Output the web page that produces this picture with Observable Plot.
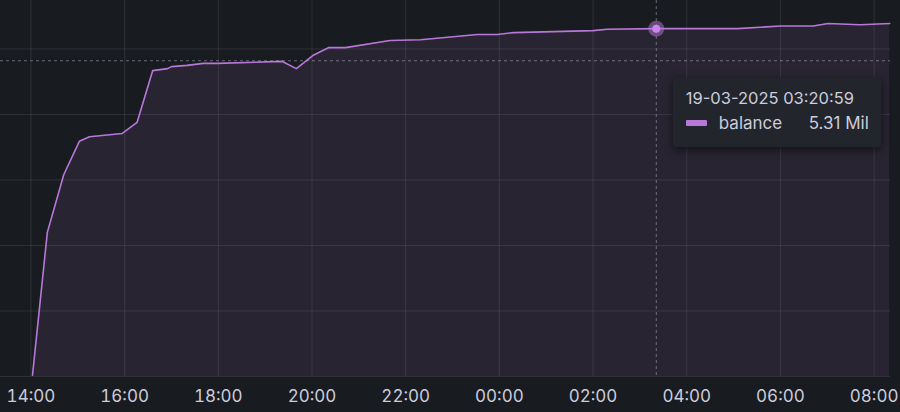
<!DOCTYPE html>
<html><head><meta charset="utf-8">
<script src="https://cdn.jsdelivr.net/npm/d3@7"></script>
<script src="https://cdn.jsdelivr.net/npm/@observablehq/plot@0.6"></script>
<style>
html,body{margin:0;padding:0;background:#181b1f;}
#wrap{position:relative;width:900px;height:412px;overflow:hidden;font-family:Inter,"Noto Sans",sans-serif;}
#tip{position:absolute;background:#22252b;border-radius:3px;box-shadow:0 3px 10px rgba(0,0,0,0.55);color:#ccccdc;box-sizing:border-box;width:208px;height:69px;padding:10px 12px 0 13px;}
#tip .t{font-size:16.5px;line-height:20px;margin-bottom:5px;}
#tip .row{display:flex;align-items:center;font-size:17px;line-height:20px;}
#tip .sw{width:21px;height:6px;border-radius:1px;margin-right:12px;}
#tip .v{margin-left:auto;}
</style></head><body><div id="wrap"></div>
<script>
// Data
const times = [
  "2025-03-18 14:02:00","2025-03-18 14:21:00","2025-03-18 14:42:00","2025-03-18 15:02:00",
  "2025-03-18 15:15:00","2025-03-18 15:57:00","2025-03-18 16:16:00","2025-03-18 16:36:00",
  "2025-03-18 16:55:00","2025-03-18 17:00:00","2025-03-18 17:20:00","2025-03-18 17:41:00",
  "2025-03-18 17:59:00","2025-03-18 19:22:00","2025-03-18 19:40:00","2025-03-18 20:01:00",
  "2025-03-18 20:21:00","2025-03-18 20:43:00","2025-03-18 21:40:00","2025-03-18 22:19:00",
  "2025-03-18 23:32:00","2025-03-18 23:57:00","2025-03-19 00:18:00","2025-03-19 02:00:00",
  "2025-03-19 02:18:00","2025-03-19 03:20:59","2025-03-19 05:05:00","2025-03-19 06:00:00",
  "2025-03-19 06:42:00","2025-03-19 07:01:00","2025-03-19 07:42:00","2025-03-19 08:20:00"
];
const balanceMil = [
  0.02, 2.20, 3.08, 3.59,
  3.66, 3.71, 3.88, 4.67,
  4.70, 4.73, 4.75, 4.78,
  4.78, 4.81, 4.70, 4.90,
  5.02, 5.02, 5.13, 5.14,
  5.22, 5.22, 5.25, 5.28,
  5.30, 5.31, 5.31, 5.35,
  5.35, 5.39, 5.37, 5.39
];
const seriesName = "balance";
const hoverIndex = 25;          // point under the cursor
const cursorValueMil = 4.82;    // cursor's vertical position (horizontal crosshair)
const domainStart = "2025-03-18 13:21:00";
const domainEnd = "2025-03-19 08:21:00";
const yMaxMil = 5.74;
const gridValuesMil = [0, 1, 2, 3, 4, 5];

const parse = d3.utcParse("%Y-%m-%d %H:%M:%S");
const data = times.map((t, i) => ({date: parse(t), value: balanceMil[i] * 1e6}));
const hover = data[hoverIndex];
const purple = "#b877d9";

const chart = Plot.plot({
  width: 900, height: 412,
  marginLeft: 0, marginRight: 10, marginTop: 0, marginBottom: 36,
  style: {background: "#181b1f", color: "#ccccdc", fontFamily: "Inter, 'Noto Sans', sans-serif", fontSize: "17px"},
  x: {type: "utc", domain: [parse(domainStart), parse(domainEnd)]},
  y: {domain: [0, yMaxMil * 1e6], axis: null},
  marks: [
    Plot.gridY(gridValuesMil.map(v => v * 1e6), {stroke: "#ccccdc", strokeOpacity: 0.12}),
    Plot.gridX({ticks: d3.utcHour.every(2), stroke: "#ccccdc", strokeOpacity: 0.12}),
    Plot.areaY(data, {x: "date", y: "value", fill: purple, fillOpacity: 0.1, curve: "linear"}),
    Plot.lineY(data, {x: "date", y: "value", stroke: purple, strokeWidth: 1.6, curve: "linear"}),
    Plot.ruleX([hover.date], {stroke: "#ccccdc", strokeOpacity: 0.45, strokeDasharray: "3,3"}),
    Plot.ruleY([cursorValueMil * 1e6], {stroke: "#ccccdc", strokeOpacity: 0.45, strokeDasharray: "3,3"}),
    Plot.dot([hover], {x: "date", y: "value", r: 8, fill: purple, fillOpacity: 0.5}),
    Plot.dot([hover], {x: "date", y: "value", r: 4, fill: "#c986ea"}),
    Plot.axisX({ticks: d3.utcHour.every(2), tickFormat: d3.utcFormat("%H:%M"), tickSize: 0, tickPadding: 13, fill: "#ccccdc"})
  ]
});
const wrap = document.getElementById("wrap");
wrap.appendChild(chart);

// Tooltip anchored to the hovered point
const px = chart.scale("x").apply(hover.date);
const py = chart.scale("y").apply(cursorValueMil * 1e6);
const tip = document.createElement("div");
tip.id = "tip";
tip.style.left = (px + 17) + "px";
tip.style.top = (py + 18) + "px";
tip.innerHTML = `<div class="t">${d3.utcFormat("%d-%m-%Y %H:%M:%S")(hover.date)}</div>
<div class="row"><div class="sw" style="background:${purple}"></div><span>${seriesName}</span><span class="v">${(hover.value/1e6).toFixed(2)} Mil</span></div>`;
wrap.appendChild(tip);
</script>
</body></html>
